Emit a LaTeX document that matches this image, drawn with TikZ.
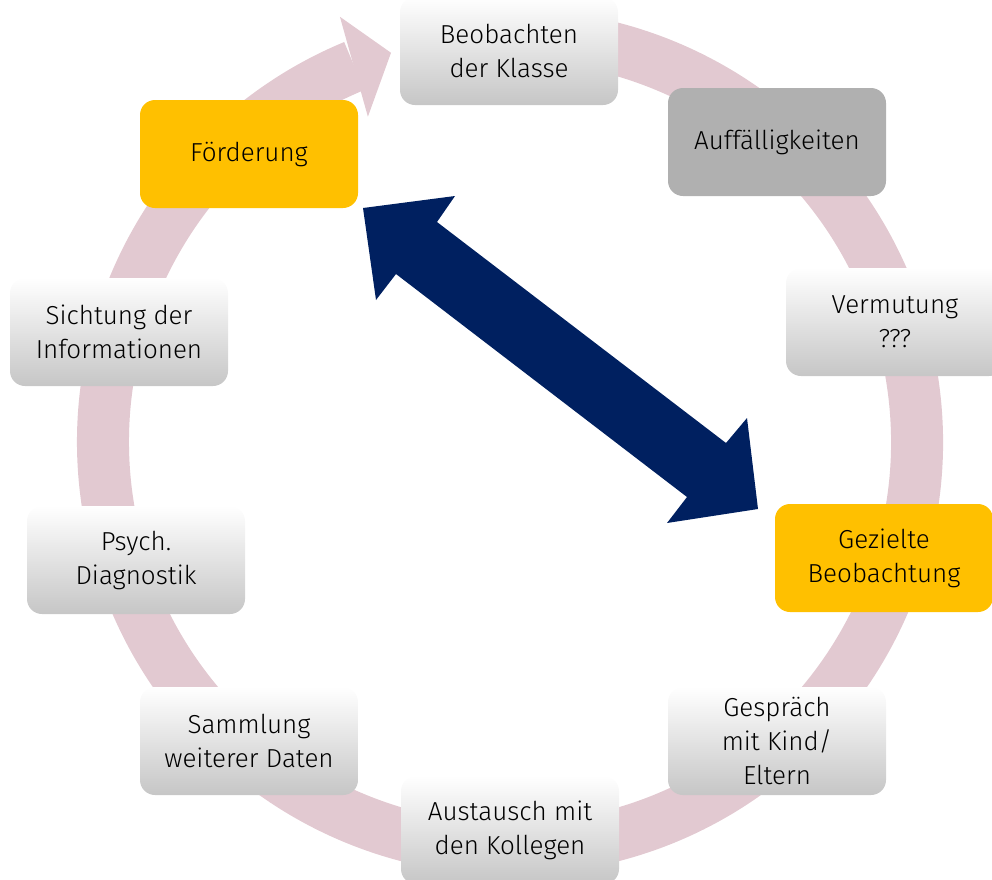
\documentclass[tikz,border=0pt]{standalone}
\usepackage{fontspec}
\setmainfont{Fira Sans Light}
\usetikzlibrary{calc}
\definecolor{ringc}{RGB}{226,201,209}
\definecolor{navy}{RGB}{0,32,96}
\definecolor{orangec}{RGB}{255,192,0}
\definecolor{greyc}{RGB}{176,176,176}
\definecolor{boxbot}{RGB}{198,198,198}
\tikzset{
  stage/.style={rounded corners=15pt, minimum width=218pt, minimum height=108pt,
    inner sep=0pt, align=center, font=\fontsize{26}{34}\selectfont, text=black},
  grad/.style={stage, top color=white, bottom color=boxbot},
  orng/.style={stage, fill=orangec},
  gry/.style={stage, fill=greyc},
}
\begin{document}
\begin{tikzpicture}[x=1pt,y=1pt]
\useasboundingbox (0,0) rectangle (992,-879);
\coordinate (c) at (510,-442);
% ring
\draw[ringc, line width=52pt] ([shift={(c)}]100:407) arc[start angle=100, end angle=-247.5, radius=407];
\fill[ringc] ([shift={(c)}]113.6:355) -- ([shift={(c)}]107:407) -- ([shift={(c)}]111.8:458) -- cycle;
% boxes
\node[grad] (beo) at (509,-51) {Beobachten\\der Klasse};
\node[gry]  (auf) at (777,-142) {Auffälligkeiten};
\node[grad] (ver) at (895,-322) {Vermutung\\???};
\node[orng] (gez) at (884,-558) {Gezielte\\Beobachtung};
\node[grad] (ges) at (777,-741) {Gespräch\\mit Kind/\\Eltern};
\node[grad] (aus) at (510,-830) {Austausch mit\\den Kollegen};
\node[grad] (sam) at (249,-741) {Sammlung\\weiterer Daten};
\node[grad] (psy) at (136,-560) {Psych.\\Diagnostik};
\node[grad] (sic) at (119,-332) {Sichtung der\\Informationen};
\node[orng] (foe) at (249,-154) {Förderung};
% double arrow
\coordinate (t1) at (363,-208);
\coordinate (t2) at (758,-509);
\fill[navy] (t1) -- (455,-196) -- (437,-222) -- (726,-443) -- (747,-418) -- (t2)
  -- (667,-523) -- (687,-497) -- (396,-274) -- (376,-300) -- cycle;
\end{tikzpicture}
\end{document}
